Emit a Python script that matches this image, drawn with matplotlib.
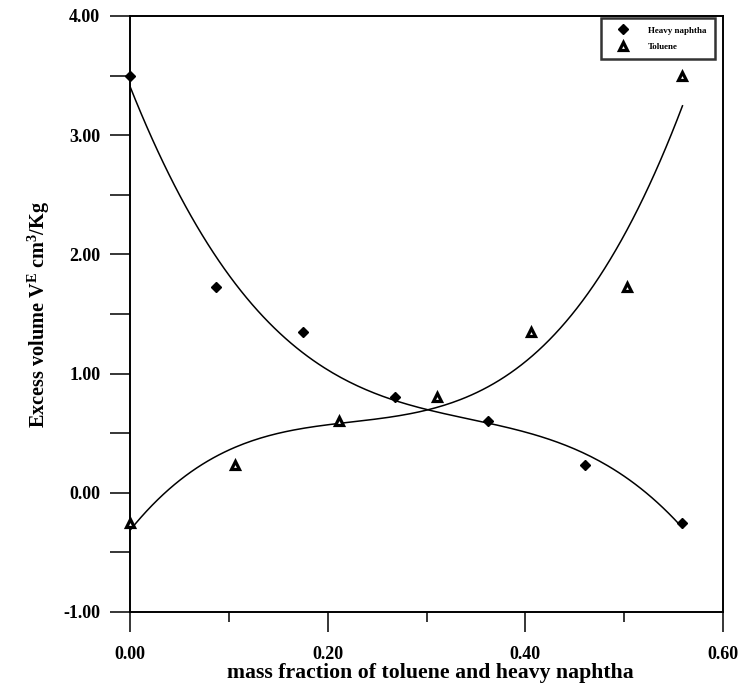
import numpy as np
import matplotlib
matplotlib.use("Agg")
import matplotlib.pyplot as plt
from matplotlib.ticker import MultipleLocator, FormatStrFormatter

# ---------------------------------------------------
naphtha_x = [0.0, 0.087, 0.175, 0.268, 0.362, 0.460, 0.559]
naphtha_y = [3.50, 1.73, 1.35, 0.80, 0.60, 0.23, -0.25]
toluene_x = [0.0, 0.106, 0.211, 0.311, 0.406, 0.503, 0.559]
toluene_y = [-0.25, 0.23, 0.60, 0.80, 1.35, 1.73, 3.50]
# ---------------------------------------------------

plt.rcParams['font.family'] = 'Liberation Serif'
plt.rcParams['font.weight'] = 'bold'
plt.rcParams['mathtext.fontset'] = 'custom'
plt.rcParams['mathtext.rm'] = 'Liberation Serif:bold'
plt.rcParams['mathtext.it'] = 'Liberation Serif:bold'
plt.rcParams['mathtext.bf'] = 'Liberation Serif:bold'

fig = plt.figure(figsize=(7.41, 6.91), dpi=100)
ax = fig.add_axes([130 / 741, 1 - 612 / 691, 593 / 741, 596 / 691])

# cubic regression lines through each set, like the original fit
xs = np.linspace(0.0, 0.559, 200)
for x, y in [(naphtha_x, naphtha_y), (toluene_x, toluene_y)]:
    coef = np.polyfit(x, y, 3)
    ax.plot(xs, np.polyval(coef, xs), color='black', lw=1.1)

ax.plot(naphtha_x, naphtha_y, 'D', color='black', ms=5.5, label='Heavy naphtha',
        clip_on=False, zorder=5)
ax.plot(toluene_x, toluene_y, '^', mfc='white', mec='black', mew=2.3, ms=6.2,
        label='Toluene', clip_on=False, zorder=5)

ax.set_xlim(0, 0.6)
ax.set_ylim(-1, 4)
ax.xaxis.set_major_locator(MultipleLocator(0.2))
ax.xaxis.set_minor_locator(MultipleLocator(0.1))
ax.yaxis.set_major_locator(MultipleLocator(1.0))
ax.yaxis.set_minor_locator(MultipleLocator(0.5))
ax.xaxis.set_major_formatter(FormatStrFormatter('%.2f'))
ax.yaxis.set_major_formatter(FormatStrFormatter('%.2f'))
ax.tick_params(which='major', direction='out', length=14.4, width=1.1,
               labelsize=13, pad=10)
ax.tick_params(axis='x', which='minor', direction='out', length=7.2, width=1.1)
ax.tick_params(axis='y', which='minor', direction='out', length=14.4, width=1.1)
ax.tick_params(axis='y', pad=7)
for s in ax.spines.values():
    s.set_linewidth(1.4)

ax.set_xlabel('mass fraction of toluene and heavy naphtha', fontsize=15.7,
              fontweight='bold')
ax.xaxis.set_label_coords(0.507, -0.086)
ax.set_ylabel(r'Excess volume V$^{\rm E}$ cm$^{\rm 3}$/Kg', fontsize=14.6,
              fontweight='bold', labelpad=8)

leg = ax.legend(loc='upper right', bbox_to_anchor=(0.994, 1.004), fontsize=6.5,
                frameon=True, fancybox=False, edgecolor='black',
                handletextpad=1.3, borderpad=0.9, labelspacing=0.9,
                handlelength=3.0, markerscale=0.9)
leg.get_frame().set_linewidth(1.8)
for t in leg.get_texts():
    t.set_fontweight('bold')

fig.savefig('out.png', dpi=100)
